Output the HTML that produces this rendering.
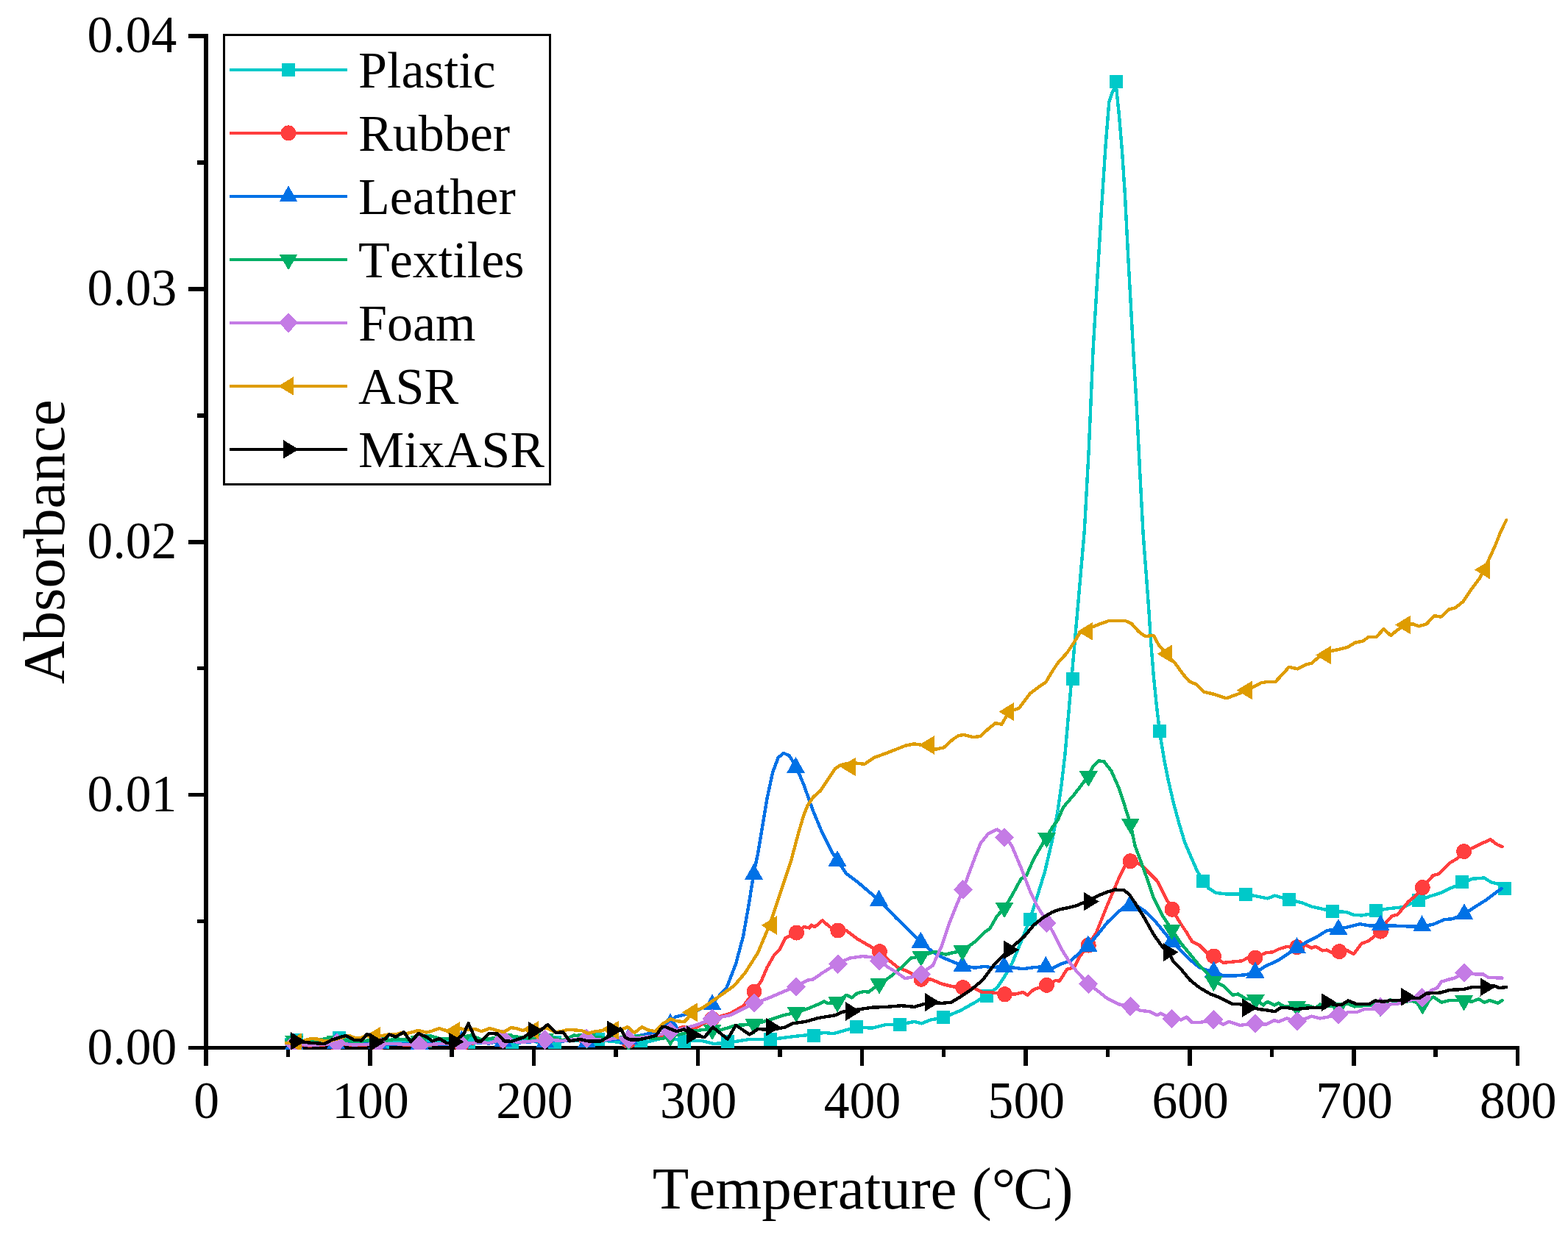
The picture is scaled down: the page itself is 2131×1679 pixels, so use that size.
<!DOCTYPE html>
<html lang="en">
<head>
<meta charset="utf-8">
<title>Absorbance vs Temperature</title>
<style>
html,body{margin:0;padding:0;background:#fff;}
body{width:2131px;height:1679px;overflow:hidden;}
svg{display:block;}
text{font-family:"Liberation Serif","Times New Roman",Times,serif;fill:#000;font-kerning:none;font-variant-ligatures:none;}
</style>
</head>
<body>
<svg width="2131" height="1679" viewBox="0 0 2131 1679">
<rect width="2131" height="1679" fill="#fff"/>
<g id="axes" fill="#000" shape-rendering="crispEdges">
<rect x="277" y="46" width="6" height="1403"/>
<rect x="256" y="1422" width="1809" height="5"/>
<rect x="268" y="1250" width="12" height="5"/>
<rect x="256" y="1078" width="24" height="5"/>
<rect x="268" y="906" width="12" height="5"/>
<rect x="256" y="734" width="24" height="6"/>
<rect x="268" y="562" width="12" height="6"/>
<rect x="256" y="390" width="24" height="6"/>
<rect x="268" y="218" width="12" height="6"/>
<rect x="256" y="46" width="24" height="6"/>
<rect x="389" y="1424" width="5" height="13"/>
<rect x="500" y="1424" width="6" height="25"/>
<rect x="611" y="1424" width="6" height="13"/>
<rect x="723" y="1424" width="5" height="25"/>
<rect x="834" y="1424" width="6" height="13"/>
<rect x="946" y="1424" width="5" height="25"/>
<rect x="1057" y="1424" width="6" height="13"/>
<rect x="1169" y="1424" width="5" height="25"/>
<rect x="1280" y="1424" width="5" height="13"/>
<rect x="1391" y="1424" width="6" height="25"/>
<rect x="1503" y="1424" width="5" height="13"/>
<rect x="1614" y="1424" width="6" height="25"/>
<rect x="1726" y="1424" width="5" height="13"/>
<rect x="1837" y="1424" width="6" height="25"/>
<rect x="1948" y="1424" width="6" height="13"/>
<rect x="2060" y="1424" width="5" height="25"/>
</g>
<g id="yticks" font-size="69.6" text-anchor="end">
<text transform="translate(240.4 1447) scale(1 1.033)">0.00</text>
<text transform="translate(240.4 1102.9) scale(1 1.033)">0.01</text>
<text transform="translate(240.4 758.8) scale(1 1.033)">0.02</text>
<text transform="translate(240.4 414.8) scale(1 1.033)">0.03</text>
<text transform="translate(240.4 70.7) scale(1 1.033)">0.04</text>
</g>
<g id="xticks" font-size="69.6" text-anchor="middle">
<text transform="translate(280.7 1519.6) scale(1 1.033)">0</text>
<text transform="translate(503.5 1519.6) scale(1 1.033)">100</text>
<text transform="translate(726.4 1519.6) scale(1 1.033)">200</text>
<text transform="translate(949.2 1519.6) scale(1 1.033)">300</text>
<text transform="translate(1172 1519.6) scale(1 1.033)">400</text>
<text transform="translate(1394.8 1519.6) scale(1 1.033)">500</text>
<text transform="translate(1617.7 1519.6) scale(1 1.033)">600</text>
<text transform="translate(1840.5 1519.6) scale(1 1.033)">700</text>
<text transform="translate(2063.3 1519.6) scale(1 1.033)">800</text>
</g>
<text id="xtitle" transform="translate(1172.6 1643) scale(1 1.0)" font-size="81" text-anchor="middle">Temperature (°<tspan dx="-2.8">C)</tspan></text>
<text id="ytitle" transform="translate(87.2 736.6) rotate(-90) scale(1 1.0)" font-size="81" text-anchor="middle">Absorbance</text>
<defs><clipPath id="plot"><rect x="277" y="40" width="1800" height="1387"/></clipPath></defs>
<g id="data" clip-path="url(#plot)" shape-rendering="crispEdges">
<g id="s-cyan" fill="#00c9c9">
<polyline points="389,1413 402.6,1414 420,1416 440,1415 461.2,1411.2 480,1415 500,1416 519.8,1416.7 540,1415 560,1417 578.4,1415.4 600,1417 620,1416 637,1416.7 660,1415 680,1417 695.6,1416.8 715,1415 735,1417 754.2,1416.7 775,1414 795,1416 812.8,1413.1 830,1416 850,1417 871.4,1414.8 880,1416.4 905,1410.2 930,1415.2 955,1415.2 970,1419 988.8,1417.7 1020.1,1412.7 1047.1,1413.2 1080.1,1408.9 1105.6,1406.4 1120.1,1403.9 1132.6,1405.2 1163.9,1396.4 1185.2,1397.7 1205.2,1392.7 1223.2,1392.7 1242.7,1388.9 1252.7,1391.4 1265.2,1386.4 1282.2,1383.4 1305.2,1373.9 1325.2,1362.7 1340.7,1352.7 1355.2,1342.7 1365.2,1327.7 1375.2,1310.2 1387.8,1280.1 1399.8,1249.6 1410,1217.6 1420,1185.1 1430,1142.6 1437.5,1102.5 1442.5,1067.5 1447.5,1025 1473.9,720.2 1479.8,610.5 1485.7,472.9 1491.6,374.6 1497.5,276.3 1502.6,197.6 1507.3,138.6 1511.2,126.9 1516.7,115.1 1521.1,158.3 1525,205.5 1528.9,264.5 1532.9,343.1 1536.8,413.9 1540.7,484.7 1544.7,551.5 1548.6,630.2 1553.3,720.2 1553.9,730 1557.7,780.1 1561.4,830.1 1563.9,870.1 1567.7,917.6 1571.4,955.1 1575.9,994.4 1582.6,1035 1587.6,1060 1595.1,1092.5 1602.6,1120.1 1610.1,1145.1 1617.6,1162.6 1626.4,1182.6 1634.6,1197.6 1642.6,1207.6 1652.6,1213.9 1667.6,1215.6 1693.4,1215.6 1710.2,1218.9 1722.7,1221.4 1732.7,1217.6 1751.9,1223.1 1770.2,1227.6 1782.7,1232.6 1800.2,1236.4 1810.7,1239.3 1829.5,1239.8 1838.9,1243.6 1850.2,1244.5 1861.4,1242.7 1869.5,1238.3 1887.7,1235.1 1906.5,1233.3 1928.1,1223.9 1944,1218.3 1959,1213.6 1970.3,1207.9 1986.8,1201.4 2000.3,1194.8 2017.2,1193.5 2026.6,1199.5 2045.4,1204.2" fill="none" stroke="#00c9c9" stroke-width="4.4" stroke-linejoin="round" stroke-linecap="round"/>
<rect x="393.6" y="1405" width="18" height="18"/>
<rect x="452.2" y="1402.2" width="18" height="18"/>
<rect x="510.8" y="1407.7" width="18" height="18"/>
<rect x="569.4" y="1406.4" width="18" height="18"/>
<rect x="628" y="1407.7" width="18" height="18"/>
<rect x="686.6" y="1407.8" width="18" height="18"/>
<rect x="745.2" y="1407.7" width="18" height="18"/>
<rect x="803.8" y="1404.1" width="18" height="18"/>
<rect x="862.4" y="1405.8" width="18" height="18"/>
<rect x="921" y="1406.5" width="18" height="18"/>
<rect x="979.8" y="1407" width="18" height="18"/>
<rect x="1038" y="1404" width="18" height="18"/>
<rect x="1096.5" y="1398.5" width="18" height="18"/>
<rect x="1154.8" y="1386.5" width="18" height="18"/>
<rect x="1214" y="1383.5" width="18" height="18"/>
<rect x="1273" y="1374.3" width="18" height="18"/>
<rect x="1331.5" y="1345" width="18" height="18"/>
<rect x="1390.5" y="1240.6" width="18" height="18"/>
<rect x="1448.6" y="913.6" width="18" height="18"/>
<rect x="1507.9" y="101.5" width="18" height="18"/>
<rect x="1566.9" y="985.4" width="18" height="18"/>
<rect x="1625.6" y="1188.6" width="18" height="18"/>
<rect x="1684.4" y="1206.6" width="18" height="18"/>
<rect x="1743" y="1214.2" width="18" height="18"/>
<rect x="1801.7" y="1230.3" width="18" height="18"/>
<rect x="1860.5" y="1229.3" width="18" height="18"/>
<rect x="1919.1" y="1214.9" width="18" height="18"/>
<rect x="1977.8" y="1189.9" width="18" height="18"/>
<rect x="2036.4" y="1198.9" width="18" height="18"/>
</g>
<g id="s-red" fill="#ff3e3e">
<polyline points="389,1419.5 399.8,1419.5 420,1421.5 440,1420.5 457.9,1418.5 480,1421 495,1420.5 513.4,1419.6 535,1419.5 550,1420.5 570.2,1421.3 600,1419.5 627,1420.4 650,1417.5 665,1418.5 683.8,1413.2 705,1417.5 720,1416.5 740.6,1414 765,1415.5 780,1413.5 797.4,1412.3 820,1414.5 840,1411.5 854.2,1413.5 875,1410.5 890,1408.5 900,1408 911,1402 928,1396 942.5,1398.9 968,1385.2 992.6,1377.7 1010.1,1367.7 1025.1,1348.2 1035.1,1332.7 1042.6,1315.2 1052.6,1297.6 1060.1,1290.1 1067.6,1275.1 1082.6,1268.1 1092.6,1260.1 1100.1,1261.4 1102.6,1257.6 1107.6,1260.1 1117.6,1251.4 1127.6,1260.1 1138.9,1265.1 1150.1,1265.1 1165.1,1276.4 1180.2,1285.1 1195.7,1293.9 1207.7,1305.1 1220.2,1315.2 1235.2,1321.4 1252.2,1331.4 1265.2,1331.4 1280.2,1337.7 1295.2,1341.4 1309,1342.7 1325.2,1343.9 1335.2,1348.9 1345.2,1348.9 1365.7,1351.9 1380,1351.4 1390,1348.9 1396.3,1352.7 1405,1345.2 1422.5,1339.4 1435,1332.7 1440,1333.9 1450,1317.7 1460,1315.2 1467.5,1300.1 1479.3,1285.1 1490.1,1267.6 1505.1,1230.1 1520.1,1195.1 1530.1,1175.1 1536.3,1170.8 1550.1,1175.1 1560.1,1185.1 1572.6,1197.6 1582.6,1217.6 1593.1,1236.4 1602.6,1252.6 1612.6,1267.6 1620.1,1280.1 1630.1,1285.1 1640.1,1295.1 1649.6,1300.1 1662.6,1308.9 1675.1,1307.6 1687.7,1306.4 1695.2,1302.6 1705.9,1301.9 1720.6,1295.2 1730,1294.3 1737.5,1290.5 1748.8,1286.8 1762.9,1287.7 1775.1,1284.9 1782.6,1288.6 1788.2,1286.8 1797.6,1292.4 1803.2,1291.5 1810.7,1295.2 1820.1,1293.9 1831.4,1292.4 1839.8,1297.1 1850.2,1283 1859.5,1279.3 1867.1,1273.6 1876.4,1266.1 1884,1253.9 1891.5,1245.5 1899,1243.6 1906.5,1235.1 1914,1225.8 1923.4,1218.3 1933.3,1206.6 1947.8,1190.1 1955.3,1188.2 1970.3,1173.2 1979.7,1167.6 1989.6,1157.6 2004.1,1151.6 2015.3,1146 2025.7,1141.3 2034.1,1147.9 2041.6,1151.1" fill="none" stroke="#ff3e3e" stroke-width="4.4" stroke-linejoin="round" stroke-linecap="round"/>
<circle cx="399.8" cy="1419.5" r="10.5"/>
<circle cx="456.6" cy="1418.5" r="10.5"/>
<circle cx="513.4" cy="1419.5" r="10.5"/>
<circle cx="570.2" cy="1421" r="10.5"/>
<circle cx="627" cy="1420" r="10.5"/>
<circle cx="683.8" cy="1414" r="10.5"/>
<circle cx="740.6" cy="1414.5" r="10.5"/>
<circle cx="797.4" cy="1413.5" r="10.5"/>
<circle cx="854.2" cy="1415.5" r="10.5"/>
<circle cx="911" cy="1402" r="10.5"/>
<circle cx="968" cy="1385" r="10.5"/>
<circle cx="1025" cy="1348" r="10.5"/>
<circle cx="1082.5" cy="1268" r="10.5"/>
<circle cx="1138.8" cy="1265" r="10.5"/>
<circle cx="1195.5" cy="1293.8" r="10.5"/>
<circle cx="1252" cy="1331.3" r="10.5"/>
<circle cx="1308.8" cy="1342.5" r="10.5"/>
<circle cx="1365.5" cy="1351.8" r="10.5"/>
<circle cx="1422.5" cy="1339.4" r="10.5"/>
<circle cx="1479.3" cy="1285.1" r="10.5"/>
<circle cx="1536.3" cy="1170.8" r="10.5"/>
<circle cx="1593.1" cy="1236.4" r="10.5"/>
<circle cx="1649.6" cy="1300.1" r="10.5"/>
<circle cx="1705.9" cy="1302.3" r="10.5"/>
<circle cx="1762.8" cy="1287.7" r="10.5"/>
<circle cx="1820.1" cy="1293.7" r="10.5"/>
<circle cx="1876.4" cy="1266.2" r="10.5"/>
<circle cx="1933.3" cy="1206.6" r="10.5"/>
<circle cx="1989.6" cy="1157.6" r="10.5"/>
</g>
<g id="s-blue" fill="#0071e6">
<polyline points="389,1419.5 399.8,1419.5 420,1419.5 440,1419.5 457.9,1418.5 480,1419.5 495,1419.5 513.4,1419.5 535,1419.5 550,1419.5 570.2,1419.5 600,1419.5 627,1419.5 650,1417.5 665,1418.5 683.8,1413.2 705,1417.5 720,1416.5 740.6,1414 765,1415.5 780,1413.5 797.4,1412.3 825,1414 854.2,1412 866,1408.8 882,1405 891.4,1404.1 900.8,1392.8 911,1389 917.5,1382.7 942.5,1376.4 968,1363.9 987.6,1342.7 1000.1,1310.2 1010.1,1272.6 1017.6,1230.1 1024.6,1186.3 1030.1,1160.1 1036.3,1122.6 1042.6,1085 1050.1,1050 1057.6,1030 1065.1,1023.8 1072.6,1027.5 1081.6,1041.3 1092.6,1067.5 1105.1,1102.5 1117.6,1132.6 1130.1,1157.6 1138.1,1170.1 1150.1,1187.6 1165.1,1198.8 1194.7,1223.9 1217.7,1247.6 1251.4,1280.9 1267.7,1293.9 1280.2,1301.4 1295.2,1307.6 1308.2,1313.2 1325.2,1315.7 1337.7,1313.9 1347.7,1315.2 1364.7,1313.9 1390,1317.2 1405,1315.2 1421.3,1313.9 1430,1316.4 1442.5,1310.2 1455,1306.4 1467.5,1295.1 1478.8,1285.1 1490.1,1272.6 1505.1,1253.9 1520.1,1239.6 1530.1,1231.4 1535.8,1230.1 1545.1,1231.4 1555.1,1238.1 1570.1,1252.6 1592.6,1280.1 1605.1,1292.6 1617.6,1305.1 1630.1,1315.2 1640.1,1318.9 1649.4,1321.4 1662.6,1326.4 1680.2,1326.4 1692.7,1325.2 1705.9,1322.7 1718.8,1314 1737.5,1305.5 1762.3,1288.6 1775.1,1281.1 1788.2,1274.6 1803.2,1265.2 1818.8,1262.9 1831.4,1260.5 1848.3,1256.2 1861.4,1258.6 1876.1,1258.2 1895.2,1258.6 1915.9,1259.5 1932.4,1259.5 1947.8,1256.7 1962.8,1250.2 1974,1249.2 1990,1242.7 2004.1,1233.3 2019.1,1223.9 2040.7,1207.9" fill="none" stroke="#0071e6" stroke-width="4.4" stroke-linejoin="round" stroke-linecap="round"/>
<path d="M399.8 1404.4L412.3 1426.5H387.3Z"/>
<path d="M456.6 1403.8L469.1 1425.9H444.1Z"/>
<path d="M513.4 1403.4L525.9 1425.5H500.9Z"/>
<path d="M570.2 1404.4L582.7 1426.5H557.7Z"/>
<path d="M627.3 1401L639.8 1423.1H614.8Z"/>
<path d="M683.8 1401.3L696.3 1423.4H671.3Z"/>
<path d="M740.6 1402.2L753.1 1424.3H728.1Z"/>
<path d="M797.4 1402.3L809.9 1424.4H784.9Z"/>
<path d="M854.2 1397.4L866.7 1419.5H841.7Z"/>
<path d="M911 1377.4L923.5 1399.5H898.5Z"/>
<path d="M968 1351.1L980.5 1373.2H955.5Z"/>
<path d="M1024.5 1173.7L1037 1195.8H1012Z"/>
<path d="M1081.5 1028.9L1094 1051H1069Z"/>
<path d="M1138 1155.9L1150.5 1178H1125.5Z"/>
<path d="M1194.5 1209.7L1207 1231.8H1182Z"/>
<path d="M1251.3 1266.4L1263.8 1288.5H1238.8Z"/>
<path d="M1308 1298.9L1320.5 1321H1295.5Z"/>
<path d="M1364.5 1299.4L1377 1321.5H1352Z"/>
<path d="M1421.3 1299.9L1433.8 1322H1408.8Z"/>
<path d="M1478.8 1271.4L1491.3 1293.5H1466.3Z"/>
<path d="M1535.8 1216.4L1548.3 1238.5H1523.3Z"/>
<path d="M1592.6 1265.4L1605.1 1287.5H1580.1Z"/>
<path d="M1649.4 1306.4L1661.9 1328.5H1636.9Z"/>
<path d="M1705.9 1307.4L1718.4 1329.5H1693.4Z"/>
<path d="M1762.5 1274.2L1775 1296.3H1750Z"/>
<path d="M1819 1248.9L1831.5 1271H1806.5Z"/>
<path d="M1876.3 1243.3L1888.8 1265.4H1863.8Z"/>
<path d="M1932.6 1244.2L1945.1 1266.3H1920.1Z"/>
<path d="M1990 1228.2L2002.5 1250.3H1977.5Z"/>
</g>
<g id="s-green" fill="#00af66">
<polyline points="389,1415 399.8,1415.5 415,1416.5 430,1414.5 445,1411.5 456.6,1410.5 470,1414.5 485,1416.5 500,1414.5 513.4,1413.5 525,1414.5 540,1412.5 555,1413.5 570.2,1411.5 585,1408.5 600,1412.5 615,1411.5 627,1410.5 640,1407.5 655,1413.5 670,1411.5 683.8,1412.5 695,1408.5 710,1410.5 725,1412.5 740.6,1410.5 755,1411.5 765,1414.5 780,1407.5 797.4,1409.5 815,1410.5 830,1411.5 854.2,1410.5 870,1408.5 885,1411.5 900,1412 911,1409 925,1406 940,1402 955,1400 968,1400 980.1,1400.2 1000.1,1393.9 1025.1,1392.7 1050.1,1385.2 1065.1,1380.2 1082.1,1376.4 1097.6,1371.4 1112.6,1365.2 1120.1,1361.4 1125.1,1363.9 1138.1,1362.7 1150.1,1352.7 1157.6,1356.4 1165.1,1350.2 1175.1,1347.7 1180.2,1348.9 1195.2,1337.7 1210.2,1327.7 1225.2,1315.2 1237.7,1302.6 1251.9,1300.1 1270.2,1293.9 1285.2,1297.6 1295.2,1295.1 1308.2,1292.6 1325.2,1280.1 1337.7,1267.6 1345.2,1262.6 1355.2,1245.1 1365.2,1234.4 1375.2,1217.6 1387.5,1195.1 1395,1190.1 1405,1167.6 1422.5,1137.6 1430,1125.1 1437.5,1115.1 1445,1097.5 1460,1080 1479.3,1055 1485.1,1042.5 1492.6,1034.5 1500.1,1035 1510.1,1047.5 1520.1,1070 1527.6,1092.5 1536.3,1120.1 1542.6,1150.1 1550.1,1170.1 1560.1,1197.6 1567.6,1220.1 1580.1,1245.1 1592.6,1263.9 1605.1,1282.6 1617.6,1297.6 1630.1,1312.7 1640.1,1322.7 1649.4,1333.9 1662.6,1340.2 1675.1,1352.7 1682.7,1351.4 1692.7,1357.7 1702.7,1358.9 1705.6,1358.1 1716.9,1366.5 1722.5,1361.8 1731.9,1366.5 1737.5,1363.7 1745,1368.4 1762.5,1367.5 1778.8,1367.5 1788.2,1370.3 1793.9,1365.6 1812.6,1368.4 1831.4,1364.7 1840.8,1368.4 1859.5,1366.5 1876.1,1368.4 1889.6,1359 1897.1,1364.7 1906.5,1361.8 1919.6,1360.9 1933.3,1365.6 1947.8,1355.3 1959,1362.8 1970.3,1360 1989.6,1360.3 2000.3,1361.8 2009.7,1358.1 2017.2,1362.8 2024.7,1360 2036,1363.7 2041.6,1360" fill="none" stroke="#00af66" stroke-width="4.4" stroke-linejoin="round" stroke-linecap="round"/>
<path d="M399.8 1429.7L412.3 1408.4H387.3Z"/>
<path d="M456.6 1429.7L469.1 1408.4H444.1Z"/>
<path d="M513.4 1429.7L525.9 1408.4H500.9Z"/>
<path d="M570.2 1429.7L582.7 1408.4H557.7Z"/>
<path d="M627 1429.7L639.5 1408.4H614.5Z"/>
<path d="M683.8 1426.7L696.3 1405.4H671.3Z"/>
<path d="M740.6 1426.7L753.1 1405.4H728.1Z"/>
<path d="M797.4 1426.7L809.9 1405.4H784.9Z"/>
<path d="M854.2 1429.7L866.7 1408.4H841.7Z"/>
<path d="M911 1423.2L923.5 1401.9H898.5Z"/>
<path d="M968 1414.2L980.5 1392.9H955.5Z"/>
<path d="M1025 1406.7L1037.5 1385.4H1012.5Z"/>
<path d="M1082 1390.2L1094.5 1368.9H1069.5Z"/>
<path d="M1138 1376.7L1150.5 1355.4H1125.5Z"/>
<path d="M1195 1351.7L1207.5 1330.4H1182.5Z"/>
<path d="M1251.8 1314.2L1264.3 1292.9H1239.3Z"/>
<path d="M1308 1306.7L1320.5 1285.4H1295.5Z"/>
<path d="M1365 1248.2L1377.5 1226.9H1352.5Z"/>
<path d="M1422.5 1153L1435 1131.7H1410Z"/>
<path d="M1479.3 1069.7L1491.8 1048.4H1466.8Z"/>
<path d="M1536.3 1134.2L1548.8 1112.9H1523.8Z"/>
<path d="M1592.6 1278.1L1605.1 1256.8H1580.1Z"/>
<path d="M1649.4 1348.2L1661.9 1326.9H1636.9Z"/>
<path d="M1706.4 1373.2L1718.9 1351.9H1693.9Z"/>
<path d="M1762.5 1382.6L1775 1361.3H1750Z"/>
<path d="M1819.2 1384.2L1831.7 1362.9H1806.7Z"/>
<path d="M1876 1382.6L1888.5 1361.3H1863.5Z"/>
<path d="M1933.3 1379.8L1945.8 1358.5H1920.8Z"/>
<path d="M1989.6 1374.5L2002.1 1353.2H1977.1Z"/>
</g>
<g id="s-purple" fill="#c47be5">
<polyline points="389,1419 399.8,1419 420,1421 440,1420 457.9,1418 480,1420.5 495,1420 513.4,1419.1 535,1419 550,1420 570.2,1420.8 600,1419 627,1419.9 650,1417 665,1418 683.8,1412.7 705,1417 720,1416 740.6,1413.5 765,1415 780,1413 797.4,1411.8 820,1414 840,1411 854.2,1413 875,1410 890,1408 911,1402.7 930,1398 945,1394 968,1385.2 992.6,1380.2 1010.1,1371.4 1025.1,1363.9 1042.6,1357.7 1060.1,1350.2 1082.1,1340.7 1097.6,1332.7 1105.1,1331.4 1117.6,1322.7 1138.9,1309.4 1155.1,1302.6 1172.6,1300.1 1185.2,1301.4 1195.2,1305.1 1205.2,1313.9 1217.7,1321.4 1230.2,1330.2 1240.2,1328.2 1252.2,1322.7 1267.7,1312.7 1280.2,1285.1 1290.2,1255.1 1300.2,1230.1 1309,1209.3 1317.7,1185.1 1325.2,1165.1 1332.7,1146.3 1342.7,1133.8 1355.2,1127.6 1365.2,1135.1 1375.2,1150.1 1387.8,1180.1 1400.3,1212.6 1410,1232.6 1423.8,1253.9 1432.5,1270.1 1442.5,1290.1 1455,1310.2 1465,1322.7 1479.3,1337.7 1492.6,1347.7 1505.1,1357.7 1520.1,1365.2 1536.3,1368.2 1550.1,1373.9 1562.6,1375.2 1572.6,1380.2 1577.6,1377.7 1592.6,1385.2 1605.1,1386.4 1612.6,1382.7 1620.1,1390.2 1630.1,1390.2 1649.4,1386.4 1662.6,1392.7 1670.1,1388.9 1685.2,1393.9 1705.9,1391.4 1720.6,1392.8 1731.9,1387.2 1737.5,1389.1 1748.8,1384.4 1762.9,1389.1 1782.6,1381.6 1793.9,1384.4 1805.1,1382.5 1819.2,1379.7 1833.3,1375.9 1844.5,1375.9 1853.9,1372.2 1865.2,1372.2 1876.4,1367.5 1887.7,1365.6 1899,1364.7 1912.1,1360.9 1932.8,1356.2 1945.9,1345.9 1953.4,1343.1 1959,1334.6 1968.4,1331.8 1975.9,1329.9 1990,1322.8 2004.1,1324.3 2015.3,1324.3 2022.9,1329 2041.6,1329.6" fill="none" stroke="#c47be5" stroke-width="4.4" stroke-linejoin="round" stroke-linecap="round"/>
<path d="M399.8 1405.8L412.8 1419L399.8 1432.2L386.8 1419Z"/>
<path d="M457.9 1404.8L470.9 1418L457.9 1431.2L444.9 1418Z"/>
<path d="M513.4 1405.9L526.4 1419.1L513.4 1432.3L500.4 1419.1Z"/>
<path d="M570.2 1407.6L583.2 1420.8L570.2 1434L557.2 1420.8Z"/>
<path d="M627 1406.7L640 1419.9L627 1433.1L614 1419.9Z"/>
<path d="M683.8 1399.5L696.8 1412.7L683.8 1425.9L670.8 1412.7Z"/>
<path d="M740.6 1400.3L753.6 1413.5L740.6 1426.7L727.6 1413.5Z"/>
<path d="M797.4 1398.6L810.4 1411.8L797.4 1425L784.4 1411.8Z"/>
<path d="M854.2 1399.8L867.2 1413L854.2 1426.2L841.2 1413Z"/>
<path d="M911 1389.5L924 1402.7L911 1415.9L898 1402.7Z"/>
<path d="M968 1371.8L981 1385L968 1398.2L955 1385Z"/>
<path d="M1025 1350.6L1038 1363.8L1025 1377L1012 1363.8Z"/>
<path d="M1082 1328.3L1095 1341.5L1082 1354.7L1069 1341.5Z"/>
<path d="M1138.8 1297.5L1151.8 1310.7L1138.8 1323.9L1125.8 1310.7Z"/>
<path d="M1195 1293.2L1208 1306.4L1195 1319.6L1182 1306.4Z"/>
<path d="M1252 1311.1L1265 1324.3L1252 1337.5L1239 1324.3Z"/>
<path d="M1308.8 1196.1L1321.8 1209.3L1308.8 1222.5L1295.8 1209.3Z"/>
<path d="M1365 1125.6L1378 1138.8L1365 1152L1352 1138.8Z"/>
<path d="M1422.5 1241.4L1435.5 1254.6L1422.5 1267.8L1409.5 1254.6Z"/>
<path d="M1479.3 1324.5L1492.3 1337.7L1479.3 1350.9L1466.3 1337.7Z"/>
<path d="M1536.3 1355L1549.3 1368.2L1536.3 1381.4L1523.3 1368.2Z"/>
<path d="M1592.6 1372L1605.6 1385.2L1592.6 1398.4L1579.6 1385.2Z"/>
<path d="M1649.4 1373.2L1662.4 1386.4L1649.4 1399.6L1636.4 1386.4Z"/>
<path d="M1705.9 1378.4L1718.9 1391.6L1705.9 1404.8L1692.9 1391.6Z"/>
<path d="M1762.8 1375.4L1775.8 1388.6L1762.8 1401.8L1749.8 1388.6Z"/>
<path d="M1819.3 1366.1L1832.3 1379.3L1819.3 1392.5L1806.3 1379.3Z"/>
<path d="M1876.4 1355.6L1889.4 1368.8L1876.4 1382L1863.4 1368.8Z"/>
<path d="M1932.8 1343L1945.8 1356.2L1932.8 1369.4L1919.8 1356.2Z"/>
<path d="M1990 1309.6L2003 1322.8L1990 1336L1977 1322.8Z"/>
</g>
<g id="s-gold" fill="#de9c00">
<polyline points="388.9,1418.2 402.5,1417.3 413.8,1414.5 422.2,1412.1 430.7,1412.5 441,1415.4 451.3,1414.4 473.9,1407.8 481.4,1410.7 490.7,1411.1 498.3,1407.8 510,1408.5 520.8,1407.8 530.2,1406 537.7,1406.4 545.2,1404.1 553.6,1405 560.2,1403.2 568.6,1400.8 579.4,1403.6 586.9,1401.7 597.2,1398 603.8,1400.5 617.5,1402 626.3,1398.5 635.7,1399.9 645.1,1398.9 654.5,1402.2 665.7,1398 673.2,1400.3 684.5,1403.2 694.8,1397.1 703.3,1398.5 710.8,1401.3 717.3,1397.5 725.4,1400.3 743.6,1397.5 754,1403.2 762.8,1402.2 771.3,1399.9 781.6,1400.4 791,1401.3 799.4,1405 808.8,1402.2 818.2,1401.3 824.8,1397.5 833.5,1400.4 847.3,1398.5 852.9,1396.1 862.3,1404.1 872.6,1396.1 881.1,1400.4 890.5,1402.2 900.8,1391.9 911.1,1385.3 919.5,1388.2 929.9,1389.1 935.5,1383.5 940,1375.8 955,1370.2 980.1,1352.7 997.6,1340.2 1012.6,1322.7 1030.1,1295.1 1046.3,1256.4 1055.1,1230.1 1065.1,1200.1 1075.1,1170.1 1085.1,1132.6 1092.6,1107.5 1097.6,1095 1105.1,1083.8 1115.1,1075 1125.1,1060 1135.1,1045 1142.6,1040 1153.9,1037.5 1162.6,1037.5 1175.1,1038.8 1187.7,1030 1205.2,1023.8 1230.2,1013.8 1242.7,1011.3 1251.3,1012.7 1270.8,1018.9 1282.5,1016.4 1295,1005.2 1302.5,1000.2 1310,998.9 1322.5,1002.2 1332.6,1000.9 1342.6,991.4 1352.6,983.2 1361.3,984.7 1371.3,967.6 1385.1,962.6 1400.1,942.6 1410.1,935.1 1421.3,927.6 1430.1,912.6 1437.6,901.4 1450.1,887.6 1460.1,872.6 1467.6,860.1 1478.4,855.1 1495.1,848.1 1507.6,843.8 1528.9,843.8 1537.7,847.6 1547.7,858.8 1556.4,865.1 1567.7,863.8 1575.2,877.6 1586.4,890.1 1597.7,902.6 1607.7,916.4 1616.4,926.4 1625.2,930.1 1636.5,940.6 1650.2,943.9 1665.2,948.9 1667.2,949.1 1681.7,943.9 1701.9,934.6 1713.7,928.4 1721.9,927 1733.3,927 1742.6,917.1 1751.9,906.7 1763.2,909.4 1775.6,903.2 1782.9,901.6 1792.1,893.3 1808.7,885.1 1821.1,882.6 1831.4,879.9 1841.7,873.7 1852,871.6 1860.3,865.9 1870.6,865.9 1880.5,855.1 1890.2,864 1899.5,856.2 1909.8,849.6 1920.2,848.3 1928.4,851.4 1938.8,848.3 1949.1,837.2 1958.4,838.6 1969.7,828.3 1978,826.2 1988.3,818 1998.6,802.5 2011,786 2021.3,765.3 2031.7,742.6 2039.9,721.9 2047.2,707.1" fill="none" stroke="#de9c00" stroke-width="4.4" stroke-linejoin="round" stroke-linecap="round"/>
<path d="M388.7 1417.3L409.5 1404.6V1430Z"/>
<path d="M496.2 1408.5L517 1395.8V1421.2Z"/>
<path d="M603.7 1402L624.5 1389.3V1414.7Z"/>
<path d="M711.6 1400.6L732.4 1387.9V1413.3Z"/>
<path d="M819.7 1400.7L840.5 1388V1413.4Z"/>
<path d="M926.7 1376.3L947.5 1363.6V1389Z"/>
<path d="M1034.7 1258L1055.5 1245.3V1270.7Z"/>
<path d="M1141.9 1042.5L1162.7 1029.8V1055.2Z"/>
<path d="M1248.7 1013L1269.5 1000.3V1025.7Z"/>
<path d="M1357.5 967.6L1378.3 954.9V980.3Z"/>
<path d="M1464.6 858.3L1485.4 845.6V871Z"/>
<path d="M1572.6 888.9L1593.4 876.2V901.6Z"/>
<path d="M1680.7 938.4L1701.5 925.7V951.1Z"/>
<path d="M1788.1 890.6L1808.9 877.9V903.3Z"/>
<path d="M1896 849.5L1916.8 836.8V862.2Z"/>
<path d="M2004 774.6L2024.8 761.9V787.3Z"/>
</g>
<g id="s-black" fill="#000000">
<polyline points="395,1415.5 401.5,1415.5 421.3,1417.7 441,1419.1 451.3,1413.5 470.1,1407.8 481.4,1414 491.7,1414.4 498.3,1406.4 503,1407 509.2,1416.5 523.6,1412.5 529.2,1406.4 537.7,1409.7 548.9,1403.2 558.3,1416.3 568.6,1405 579.4,1409.7 587.8,1415.4 597.2,1412.1 607.5,1418.2 616.9,1416.3 630,1406 636.6,1391.4 643.2,1406 647.9,1415.4 654.5,1415.4 664.8,1405 676,1405.5 685.4,1415.4 694.8,1415.8 710.8,1410.7 724.6,1401.3 735.2,1400.3 744.6,1392.8 755.8,1404.1 765.2,1403.2 774.1,1415.4 788.2,1413 799.4,1415.4 816.3,1415.4 824.8,1410.7 832.3,1400.4 843.5,1398.5 850.1,1410.7 856.7,1413.5 867.9,1413.5 881.1,1410.7 891.4,1407.9 899.8,1396.1 904.5,1396.1 919.5,1402.2 929.9,1399.4 940,1406.9 957.5,1410.2 968.8,1396.4 988.8,1412.7 1000.1,1393.9 1018.8,1406.4 1030.1,1398.9 1047.6,1400.2 1067.6,1396.4 1077.6,1391.4 1095.1,1388.9 1112.6,1383.9 1135.1,1380.2 1145.1,1375.7 1156.4,1373.9 1185.2,1369.7 1205.2,1368.9 1225.2,1367.2 1242.7,1368.9 1263.9,1362.7 1280.2,1363.9 1292.7,1362.7 1305.2,1355.2 1320.2,1345.2 1335.2,1332.7 1350.2,1312.7 1365.2,1297.6 1371.5,1291.4 1392.5,1272.6 1405,1257.6 1417.5,1247.6 1430,1240.1 1440,1236.4 1452.5,1233.9 1462.5,1231.4 1480.1,1223.9 1492.6,1217.6 1505.1,1212.6 1515.1,1209.6 1527.6,1210.1 1535.1,1216.4 1542.6,1227.6 1555.1,1247.6 1567.6,1270.1 1580.1,1287.6 1587.6,1294.6 1595.1,1307.6 1605.1,1317.7 1617.6,1332.7 1630.1,1342.7 1645.1,1351.4 1655.1,1355.2 1667.6,1361.4 1675.1,1365.2 1685.2,1365.2 1695.2,1368.9 1712.7,1372.2 1725.2,1373.9 1732.7,1375.2 1740.2,1370.2 1750.2,1370.2 1760.2,1372.2 1780.2,1370.2 1795.2,1370.2 1802.7,1363.9 1816.4,1366.5 1823.9,1365.6 1832.3,1360.5 1842.7,1364.7 1861.4,1364.7 1868.9,1360.5 1880.2,1361.8 1889.6,1360 1902.7,1360 1910.8,1356.2 1929,1357.2 1938.4,1350.6 1957.2,1349.6 1970.3,1345.9 1989.1,1345 2000.3,1342.1 2018.5,1341.8 2030.4,1340.3 2037.9,1343.1 2047.3,1342.1" fill="none" stroke="#000000" stroke-width="4.4" stroke-linejoin="round" stroke-linecap="round"/>
<path d="M415.3 1415.5L394.5 1402.8V1428.2Z"/>
<path d="M523 1416.8L502.2 1404.1V1429.5Z"/>
<path d="M630.7 1416.3L609.9 1403.6V1429Z"/>
<path d="M738.4 1401.3L717.6 1388.6V1414Z"/>
<path d="M846.1 1400.4L825.3 1387.7V1413.1Z"/>
<path d="M953.8 1406.9L933 1394.2V1419.6Z"/>
<path d="M1061.3 1396.3L1040.5 1383.6V1409Z"/>
<path d="M1170.1 1375L1149.3 1362.3V1387.7Z"/>
<path d="M1277.6 1362.5L1256.8 1349.8V1375.2Z"/>
<path d="M1385.1 1291.3L1364.3 1278.6V1304Z"/>
<path d="M1493.8 1225.6L1473 1212.9V1238.3Z"/>
<path d="M1601.4 1294.6L1580.6 1281.9V1307.3Z"/>
<path d="M1709 1370.2L1688.2 1357.5V1382.9Z"/>
<path d="M1816.3 1362.6L1795.5 1349.9V1375.3Z"/>
<path d="M1924.4 1355.3L1903.6 1342.6V1368Z"/>
<path d="M2032.3 1341.8L2011.5 1329.1V1354.5Z"/>
</g>
</g>
<g id="legend" shape-rendering="crispEdges">
<rect x="303" y="46" width="446" height="614" fill="#000"/>
<rect x="306" y="49" width="440" height="608" fill="#fff"/>
<g fill="#00c9c9"><rect x="312" y="93" width="160" height="4"/><rect x="383" y="85.9" width="18" height="18"/></g>
<g fill="#ff3e3e"><rect x="312" y="179" width="160" height="4"/><circle cx="392" cy="180.9" r="10.5"/></g>
<g fill="#0071e6"><rect x="312" y="265" width="160" height="4"/><path d="M392 252.3L404.5 274.4H379.5Z"/></g>
<g fill="#00af66"><rect x="312" y="351" width="160" height="4"/><path d="M392 367.1L404.5 345.8H379.5Z"/></g>
<g fill="#c47be5"><rect x="312" y="437" width="160" height="4"/><path d="M392 425.7L405 438.9L392 452.1L379 438.9Z"/></g>
<g fill="#de9c00"><rect x="312" y="523" width="160" height="4"/><path d="M378.2 524.9L399 512.2V537.6Z"/></g>
<g fill="#000000"><rect x="312" y="609" width="160" height="4"/><path d="M405.8 610.9L385 598.2V623.6Z"/></g>
</g>
<g id="legend-text" font-size="70">
<text transform="translate(487 119.3) scale(1 1.0)">Plastic</text>
<text transform="translate(487 205.3) scale(1 1.0)">Rubber</text>
<text transform="translate(487 291.3) scale(1 1.0)">Leather</text>
<text transform="translate(487 377.3) scale(1 1.0)">Textiles</text>
<text transform="translate(487 463.3) scale(1 1.0)">Foam</text>
<text transform="translate(487 549.3) scale(1 1.0)">ASR</text>
<text transform="translate(487 635.3) scale(1 1.0)">MixASR</text>
</g>
</svg>
</body>
</html>
